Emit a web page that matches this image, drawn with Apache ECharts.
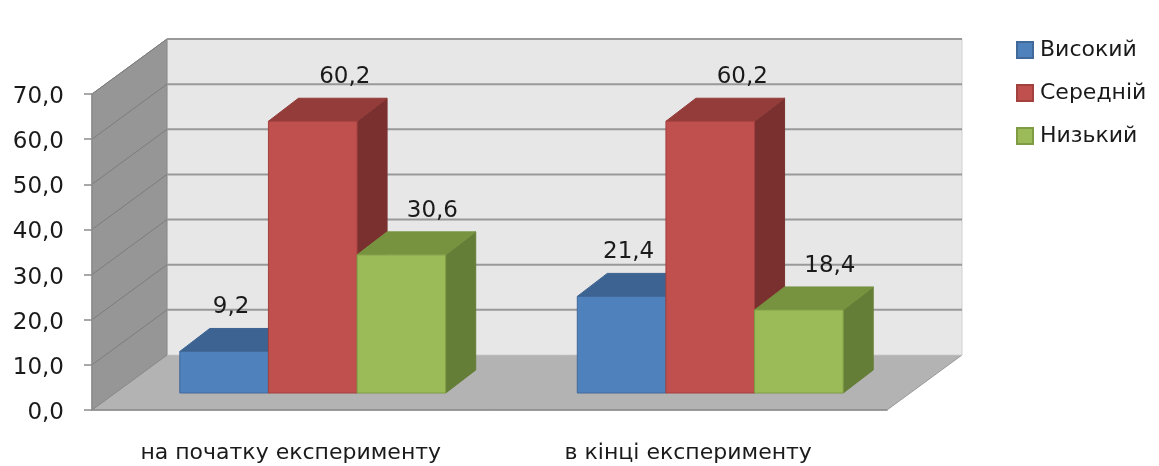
<!DOCTYPE html>
<html>
<head>
<meta charset="utf-8">
<script src="https://cdn.jsdelivr.net/npm/echarts@6/dist/echarts.min.js"></script>
<style>
  html, body { margin: 0; padding: 0; background: #ffffff; }
  #chart { width: 1159px; height: 466px; }
</style>
</head>
<body>
<div id="chart"></div>
<script>
// Categories, series and axis settings
const categories = ['на початку експерименту', 'в кінці експерименту'];
const levels = ['Високий', 'Середній', 'Низький'];
const highValues = [9.2, 21.4];
const midValues = [60.2, 60.2];
const lowValues = [30.6, 18.4];
const yMin = 0;
const yMax = 70;
const yStep = 10;

const seriesValues = [highValues, midValues, lowValues];

const FONT = '"DejaVu Sans", "Liberation Sans", sans-serif';

// Pseudo-3D box: depth vector of the walls, and where the bars sit inside the depth
const DEPTH = [75, -55];
const BAR_OFFSET = [22, -17];
const BAR_DEPTH = [30, -23];
const BAR_FRAC = 0.223; // bar width as a share of the category band

const shades = [
  { front: '#4F81BD', top: '#3C6391', side: '#2F4F75', edge: '#41699A', labelDx: 7 },
  { front: '#C0504D', top: '#943C3A', side: '#7A302F', edge: '#A2413E', labelDx: 32 },
  { front: '#9BBB59', top: '#779340', side: '#657E37', edge: '#7F9C45', labelDx: 31 }
];

function fmt(v) {
  return v.toFixed(1).replace('.', ',');
}

// Floor, side wall, back wall and their grid lines
function renderWalls(params, api) {
  const cs = params.coordSys;
  const x0 = cs.x;
  const x1 = cs.x + cs.width;
  const y0 = api.coord([0, yMin])[1];
  const yTop = api.coord([0, yMax])[1];
  const dx = DEPTH[0], dy = DEPTH[1];
  const children = [];

  children.push({
    type: 'polygon',
    shape: { points: [[x0, y0], [x1, y0], [x1 + dx, y0 + dy], [x0 + dx, y0 + dy]] },
    style: { fill: '#B3B3B3', stroke: '#999999', lineWidth: 1 }
  });
  children.push({
    type: 'polygon',
    shape: { points: [[x0 + dx, y0 + dy], [x1 + dx, y0 + dy], [x1 + dx, yTop + dy], [x0 + dx, yTop + dy]] },
    style: { fill: '#E7E7E7', stroke: '#D0D0D0', lineWidth: 1 }
  });
  children.push({
    type: 'polygon',
    shape: { points: [[x0, y0], [x0 + dx, y0 + dy], [x0 + dx, yTop + dy], [x0, yTop]] },
    style: { fill: '#969696', stroke: '#8A8A8A', lineWidth: 1 }
  });

  for (let v = yMin + yStep; v <= yMax; v += yStep) {
    const y = api.coord([0, v])[1];
    children.push({
      type: 'line',
      shape: { x1: x0, y1: y, x2: x0 + dx, y2: y + dy },
      style: { stroke: '#7C7C7C', lineWidth: 1 }
    });
    children.push({
      type: 'line',
      shape: { x1: x0 + dx, y1: y + dy, x2: x1 + dx, y2: y + dy },
      style: { stroke: '#999999', lineWidth: 2 }
    });
  }
  return { type: 'group', children: children };
}

// One 3D bar (front, top, side faces) plus its value label
function makeBarRenderer(k) {
  return function (params, api) {
    const cat = api.value(0);
    const val = api.value(1);
    const base = api.coord([cat, 0]);
    const tip = api.coord([cat, val]);
    const catW = api.size([1, 0])[0];
    const w = catW * BAR_FRAC;
    const xl = base[0] - 1.5 * w + k * w + BAR_OFFSET[0];
    const xr = xl + w;
    const yb = base[1] + BAR_OFFSET[1];
    const yt = tip[1] + BAR_OFFSET[1];
    const bx = BAR_DEPTH[0], by = BAR_DEPTH[1];
    const c = shades[k];
    return {
      type: 'group',
      children: [
        {
          type: 'polygon',
          shape: { points: [[xr, yb], [xr + bx, yb + by], [xr + bx, yt + by], [xr, yt]] },
          style: { fill: c.side, stroke: c.side, lineWidth: 1 }
        },
        {
          type: 'polygon',
          shape: { points: [[xl, yt], [xr, yt], [xr + bx, yt + by], [xl + bx, yt + by]] },
          style: { fill: c.top, stroke: c.top, lineWidth: 1 }
        },
        {
          type: 'rect',
          shape: { x: xl, y: yt, width: w, height: yb - yt },
          style: { fill: c.front, stroke: c.edge, lineWidth: 1 }
        },
        {
          type: 'text',
          z2: 100,
          style: {
            x: (xl + xr) / 2 + c.labelDx,
            y: yt + by - 21,
            text: fmt(val),
            font: '23px ' + FONT,
            fill: '#1A1A1A',
            textAlign: 'center',
            textVerticalAlign: 'middle'
          }
        }
      ]
    };
  };
}

const chart = echarts.init(document.getElementById('chart'), null, { renderer: 'canvas' });

const series = [{
  type: 'custom',
  silent: true,
  clip: false,
  z: 1,
  renderItem: renderWalls,
  data: [[0, 0]]
}];

levels.forEach(function (name, k) {
  series.push({
    type: 'custom',
    name: name,
    clip: false,
    z: 3,
    itemStyle: { color: shades[k].front, borderColor: shades[k].edge, borderWidth: 1 },
    encode: { x: 0, y: 1 },
    renderItem: makeBarRenderer(k),
    data: seriesValues[k].map(function (v, i) { return [i, v]; })
  });
});

chart.setOption({
  animation: false,
  backgroundColor: '#ffffff',
  grid: { left: 92, right: 272, top: 94, bottom: 56 },
  legend: {
    data: levels,
    orient: 'vertical',
    left: 1016,
    top: 39,
    padding: 0,
    icon: 'rect',
    itemWidth: 16,
    itemHeight: 16,
    itemGap: 21,
    textStyle: { fontFamily: FONT, fontSize: 22, color: '#1A1A1A', padding: [0, 0, 0, 2] }
  },
  xAxis: {
    type: 'category',
    data: categories,
    z: 5,
    axisLine: { lineStyle: { color: '#8C8C8C', width: 1.5 } },
    axisTick: { length: 8, lineStyle: { color: '#8C8C8C', width: 1.5 } },
    axisLabel: { fontFamily: FONT, fontSize: 22, color: '#1A1A1A', margin: 32 },
    splitLine: { show: false }
  },
  yAxis: {
    type: 'value',
    min: yMin,
    max: yMax,
    interval: yStep,
    z: 5,
    axisLine: { show: true, lineStyle: { color: '#8C8C8C', width: 1.5 } },
    axisTick: { show: true, length: 8, lineStyle: { color: '#8C8C8C', width: 1.5 } },
    axisLabel: {
      margin: 28,
      formatter: function (v) { return '{t|' + fmt(v) + '}'; },
      rich: { t: { fontFamily: FONT, fontSize: 23, color: '#1A1A1A', padding: [6, 0, 0, 0] } }
    },
    splitLine: { show: false }
  },
  series: series
});
</script>
</body>
</html>
